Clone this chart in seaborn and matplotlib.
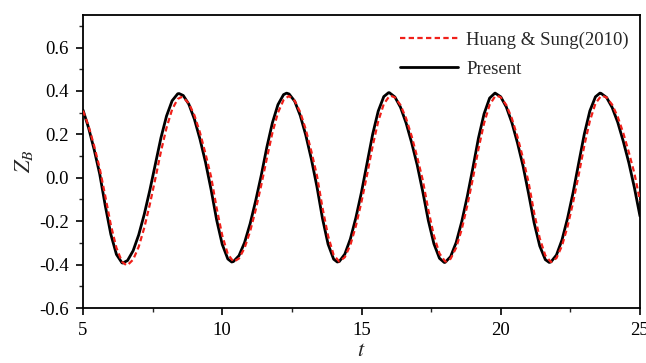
import numpy as np
import pandas as pd
import matplotlib
matplotlib.use("Agg")
import matplotlib.pyplot as plt
import seaborn as sns
from matplotlib.ticker import MultipleLocator

# sample times (step 0.2 from 5 to 25)
t = np.round(np.linspace(5.0, 25.0, 101), 2)

# Present (black solid)
present = [
    0.312, 0.230, 0.130, 0.017, -0.129, -0.261, -0.353, -0.392,
    -0.381, -0.336, -0.263, -0.168, -0.057, 0.064, 0.185, 0.285, 0.355, 0.387,
    0.379, 0.339, 0.270, 0.178, 0.071, -0.055, -0.195, -0.307, -0.374, -0.386,
    -0.359, -0.299, -0.212, -0.106, 0.011, 0.140, 0.253, 0.337, 0.383,
    0.386, 0.353, 0.287, 0.196, 0.086, -0.041, -0.188, -0.306, -0.375, -0.386,
    -0.352, -0.282, -0.183, -0.066, 0.067, 0.200, 0.307, 0.374, 0.392,
    0.372, 0.325, 0.253, 0.162, 0.059, -0.064, -0.197, -0.304, -0.371, -0.390,
    -0.363, -0.298, -0.202, -0.085, 0.046, 0.183, 0.294, 0.367, 0.390,
    0.373, 0.326, 0.254, 0.161, 0.055, -0.073, -0.208, -0.314, -0.377, -0.388,
    -0.356, -0.286, -0.186, -0.067, 0.068, 0.201, 0.308, 0.373, 0.389,
    0.370, 0.324, 0.256, 0.168, 0.069, -0.046, -0.177,
]
# Present: peaks / troughs
present_ext_t = [6.43, 8.45, 10.34, 12.31, 14.13, 15.97, 17.97, 19.79, 21.74, 23.56]
present_ext_z = [-0.393, 0.388, -0.388, 0.390, -0.388, 0.392, -0.390, 0.390, -0.390, 0.390]

# Huang & Sung (2010) (red dashed)
huang = [
    0.309, 0.238, 0.147, 0.043, -0.085, -0.218, -0.323, -0.387,
    -0.402, -0.377, -0.318, -0.230, -0.122, -0.002, 0.122, 0.231, 0.315, 0.363,
    0.370, 0.343, 0.288, 0.208, 0.110, 0.004, -0.141, -0.266, -0.352, -0.386,
    -0.372, -0.324, -0.247, -0.148, -0.034, 0.089, 0.207, 0.300, 0.358,
    0.376, 0.355, 0.302, 0.222, 0.121, 0.010, -0.139, -0.268, -0.356, -0.386,
    -0.366, -0.310, -0.221, -0.110, 0.014, 0.146, 0.260, 0.340, 0.376,
    0.370, 0.335, 0.274, 0.192, 0.095, -0.011, -0.149, -0.267, -0.349, -0.385,
    -0.373, -0.322, -0.237, -0.127, -0.003, 0.133, 0.251, 0.336, 0.376,
    0.371, 0.335, 0.273, 0.189, 0.090, -0.022, -0.162, -0.279, -0.358, -0.388,
    -0.370, -0.313, -0.224, -0.112, 0.014, 0.148, 0.262, 0.342, 0.377,
    0.370, 0.337, 0.281, 0.206, 0.117, 0.020, -0.106,
]
# Huang & Sung: peaks / troughs
huang_ext_t = [6.56, 8.53, 10.42, 12.38, 14.20, 16.05, 18.04, 19.86, 21.81, 23.64]
huang_ext_z = [-0.403, 0.372, -0.386, 0.376, -0.386, 0.378, -0.386, 0.378, -0.388, 0.378]

x_ticks = [5, 10, 15, 20, 25]
y_ticks = [-0.6, -0.4, -0.2, 0.0, 0.2, 0.4, 0.6]

df_p = pd.DataFrame({"t": np.concatenate([t, present_ext_t]),
                     "z": np.concatenate([present, present_ext_z])}).sort_values("t")
df_h = pd.DataFrame({"t": np.concatenate([t, huang_ext_t]),
                     "z": np.concatenate([huang, huang_ext_z])}).sort_values("t")

sns.set_theme(style="ticks")
plt.rcParams["font.family"] = ["Liberation Serif", "DejaVu Serif"]
plt.rcParams["mathtext.fontset"] = "stix"

fig = plt.figure(figsize=(6.46, 3.63), dpi=100)
ax = fig.add_axes([0.1285, 0.1515, 0.8622, 0.8072])

sns.lineplot(data=df_p, x="t", y="z", ax=ax, color="black", linewidth=2.0,
             label="Present", zorder=2, estimator=None, sort=False)
sns.lineplot(data=df_h, x="t", y="z", ax=ax, color="#f0201a", linewidth=1.6,
             linestyle=(0, (2.4, 1.5)), label="Huang & Sung(2010)", zorder=3,
             estimator=None, sort=False)

ax.set_xlim(5, 25)
ax.set_ylim(-0.6, 0.75)
ax.set_xticks(x_ticks)
ax.set_yticks(y_ticks)
ax.set_yticklabels([f"{v:.1f}" for v in y_ticks])
ax.xaxis.set_minor_locator(MultipleLocator(2.5))
ax.yaxis.set_minor_locator(MultipleLocator(0.1))
ax.tick_params(axis="both", which="major", direction="out", length=5, width=1.2,
               labelsize=13.5, colors="black", top=False, right=False, pad=5)
ax.tick_params(axis="both", which="minor", direction="out", length=3, width=1.0,
               top=False, right=False)
for s in ax.spines.values():
    s.set_visible(True)
    s.set_color("black")
    s.set_linewidth(1.3)

ax.set_xlabel(r"$t$", fontsize=16, labelpad=2)
ax.set_ylabel(r"$Z_B$", fontsize=16, labelpad=3)

h, l = ax.get_legend_handles_labels()
order = [l.index("Huang & Sung(2010)"), l.index("Present")]
ax.legend([h[i] for i in order], [l[i] for i in order], loc="upper right",
          bbox_to_anchor=(1.0, 0.983),
          frameon=False, fontsize=13.5, handlelength=3.05, handletextpad=0.45,
          labelspacing=0.65, borderaxespad=0.3, borderpad=0.3)

fig.savefig("out.png", dpi=100)
